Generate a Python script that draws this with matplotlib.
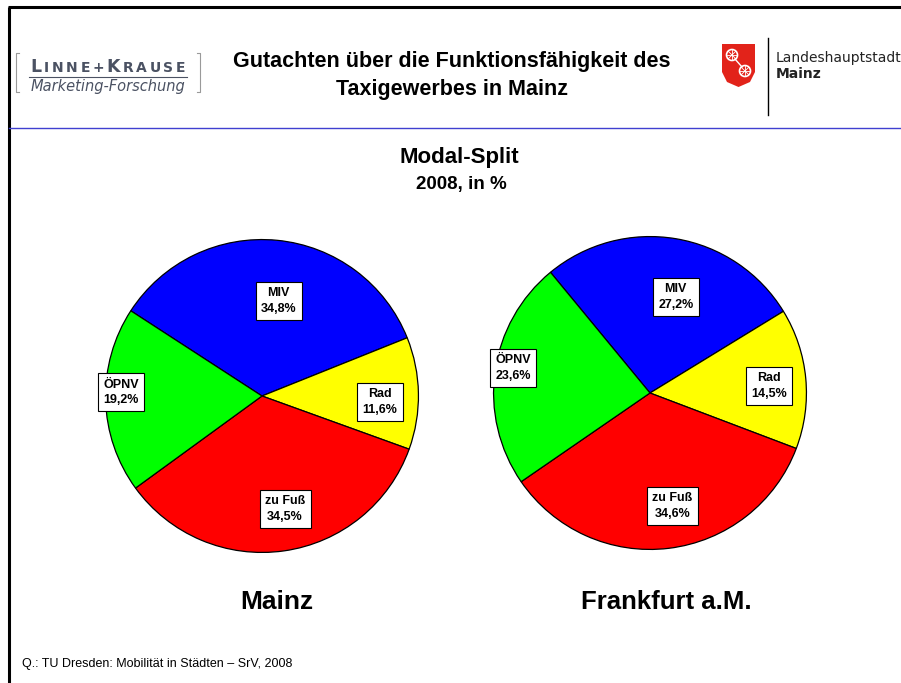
import numpy as np
import matplotlib
matplotlib.use("Agg")
import matplotlib.pyplot as plt
from matplotlib.patches import Polygon, Circle

plt.rcParams['font.family'] = ['Liberation Sans', 'DejaVu Sans']

# data
categories = ["MIV", "Rad", "zu Fuß", "ÖPNV"]
mainz = [34.8, 11.6, 34.5, 19.2]
frankfurt = [27.2, 14.5, 34.6, 23.6]
colors = ["#0000ff", "#ffff00", "#ff0000", "#00ff00"]
value_labels_mainz = ["34,8%", "11,6%", "34,5%", "19,2%"]
value_labels_frankfurt = ["27,2%", "14,5%", "34,6%", "23,6%"]

W, H = 901, 683
fig = plt.figure(figsize=(W / 100, H / 100), dpi=100)
fig.patch.set_facecolor("white")

# background axes in pixel coords for frame, header, logos
bg = fig.add_axes([0, 0, 1, 1])
bg.set_xlim(0, W)
bg.set_ylim(H, 0)
bg.axis("off")

bg.plot([9, 9], [7, H], color="black", lw=2.2, solid_capstyle="butt")
bg.plot([8, W], [7, 7], color="black", lw=2.2, solid_capstyle="butt")
bg.plot([9, W], [128, 128], color="#4040d0", lw=1.0)

# Linne+Krause logo, small caps drawn letter by letter with spacing
lk_col = "#4b5263"
bg.plot([19, 16, 16, 19], [53, 53, 92, 92], color="#9a9a9a", lw=0.8)
bg.plot([197, 200, 200, 197], [53, 53, 92, 92], color="#9a9a9a", lw=0.8)
big = {0, 6}
renderer = fig.canvas.get_renderer()
objs = []
gap = 2.6
total = 0
for i, ch in enumerate("LINNE+KRAUSE"):
    fs = 12.5 if i in big else 10
    t = bg.text(0, 72, ch, fontsize=fs, fontweight="bold", color=lk_col, ha="left",
                va="baseline", family="DejaVu Sans")
    wpx = t.get_window_extent(renderer).width
    objs.append((t, wpx))
    total += wpx
total += gap * (len(objs) - 1)
x = 108 - total / 2
for t, wpx in objs:
    t.set_x(x)
    x += wpx + gap
bg.plot([29, 187], [77, 77], color=lk_col, lw=0.8)
bg.text(108, 86, "Marketing-Forschung", fontsize=10.5, style="italic", color=lk_col,
        ha="center", va="center", family="DejaVu Sans", fontweight="light")

# header title
bg.text(452, 62, "Gutachten über die Funktionsfähigkeit des", fontsize=15.5,
        fontweight="bold", ha="center", va="center")
bg.text(452, 89, "Taxigewerbes in Mainz", fontsize=15.5,
        fontweight="bold", ha="center", va="center")

# Mainz coat of arms
shield = Polygon([[722, 44], [755, 44], [755, 72], [750, 82], [738.5, 87], [727, 82], [722, 72]],
                 closed=True, facecolor="#e2231a", edgecolor="none")
bg.add_patch(shield)
for cx, cy in [(732, 55), (745, 71)]:
    bg.add_patch(Circle((cx, cy), 5.5, facecolor="none", edgecolor="white", lw=1.2))
    for a in np.linspace(0, np.pi, 4, endpoint=False):
        bg.plot([cx - 5 * np.cos(a), cx + 5 * np.cos(a)],
                [cy - 5 * np.sin(a), cy + 5 * np.sin(a)], color="white", lw=0.6)
bg.plot([735, 742], [59, 67], color="white", lw=1.0)
bg.plot([768, 768], [38, 115], color="black", lw=1.0)
bg.text(776, 58, "Landeshauptstadt", fontsize=10, ha="left", va="center",
        family="DejaVu Sans", color="#222222")
bg.text(776, 74, "Mainz", fontsize=10, fontweight="bold", ha="left", va="center",
        family="DejaVu Sans", color="#222222")

# chart title
bg.text(459, 158, "Modal-Split", fontsize=16, fontweight="bold", ha="center", va="center")
bg.text(461, 185, "2008, in %", fontsize=13.5, fontweight="bold", ha="center", va="center")

bg.text(277, 602, "Mainz", fontsize=19, fontweight="bold", ha="center", va="center")
bg.text(666, 602, "Frankfurt a.M.", fontsize=18.5, fontweight="bold", ha="center", va="center")

bg.text(22, 664, "Q.: TU Dresden: Mobilität in Städten – SrV, 2008", fontsize=9,
        ha="left", va="center")


def draw_pie(cx, cy, r, values, vlabels, start, label_pos):
    ax = fig.add_axes([(cx - r) / W, (H - cy - r) / H, 2 * r / W, 2 * r / H])
    wedges, _ = ax.pie(values, colors=colors, startangle=start, counterclock=False,
                       radius=1, wedgeprops=dict(edgecolor="black", linewidth=0.9))
    ax.set_xlim(-1.01, 1.01)
    ax.set_ylim(-1.01, 1.01)
    ax.set_aspect("equal")
    ax.axis("off")
    for w, cat, vl, (dist, dang) in zip(wedges, categories, vlabels, label_pos):
        ang = np.deg2rad((w.theta1 + w.theta2) / 2 + dang)
        ax.text(dist * np.cos(ang), dist * np.sin(ang), cat + "\n" + vl,
                fontsize=9, fontweight="bold", ha="center", va="center", linespacing=1.4,
                bbox=dict(boxstyle="square,pad=0.42", facecolor="white", edgecolor="black", lw=0.8))


draw_pie(262, 396, 158, mainz, value_labels_mainz, 147,
         [(0.617, -4.4), (0.755, -4), (0.736, 3.5), (0.9, -3)])
draw_pie(650, 393, 158, frankfurt, value_labels_frankfurt, 129.5,
         [(0.636, -5.5), (0.76, -2), (0.736, 4.3), (0.89, -2.3)])

fig.savefig("out.png", dpi=100, facecolor="white")
